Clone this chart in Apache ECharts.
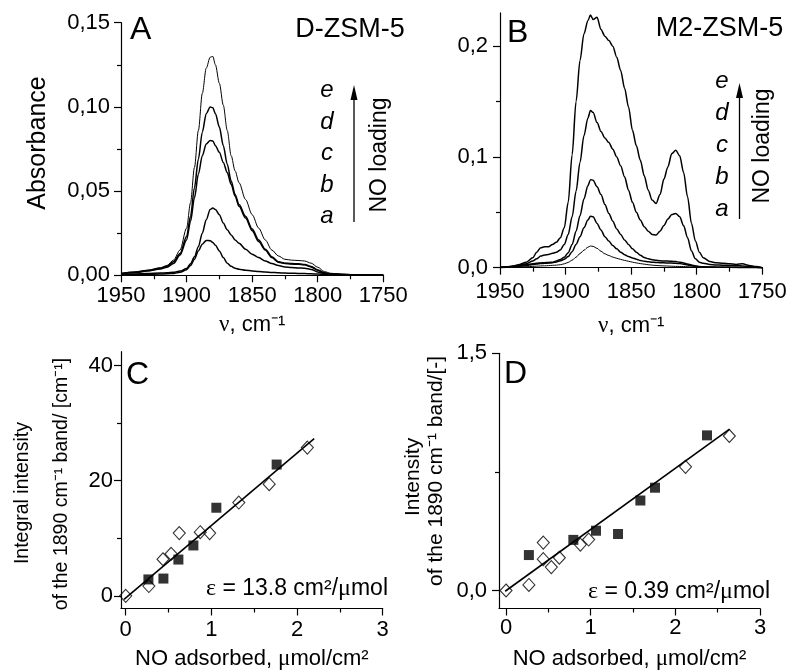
<!DOCTYPE html>
<html><head><meta charset="utf-8">
<script src="https://cdn.jsdelivr.net/npm/echarts@6/dist/echarts.min.js"></script>
<style>html,body{margin:0;padding:0;background:#fff}#c{width:790px;height:671px}</style>
</head><body><div id="c"></div>
<script>
// ---------- Panel A (D-ZSM-5) spectra ----------
const A_wn = [1950,1940,1930,1920,1915,1910,1905,1900,1897,1894,1891,1888,1885,1882,1880,1878,1875,1872,1869,1866,1863,1860,1855,1850,1845,1840,1835,1830,1825,1820,1815,1810,1805,1800,1795,1790,1780,1770,1760,1750];
const A_e = [0.0012,0.002,0.003,0.0045,0.0058,0.009,0.015,0.028,0.043,0.064,0.086,0.108,0.123,0.1295,0.130,0.125,0.114,0.101,0.086,0.071,0.062,0.055,0.045,0.036,0.028,0.021,0.015,0.0115,0.0095,0.009,0.0088,0.0085,0.0072,0.0048,0.0022,0.0012,0.0006,0.0004,0.0003,0.0002];
const A_d = [0.001,0.0018,0.0028,0.0042,0.0053,0.008,0.013,0.023,0.035,0.052,0.069,0.085,0.096,0.100,0.0995,0.096,0.088,0.077,0.066,0.056,0.048,0.042,0.035,0.0275,0.021,0.0155,0.011,0.008,0.0072,0.007,0.0068,0.0064,0.0052,0.0032,0.0015,0.0008,0.0005,0.0003,0.0002,0.0001];
const A_c = [0.0008,0.0015,0.0025,0.0038,0.0048,0.007,0.012,0.021,0.032,0.046,0.060,0.071,0.078,0.080,0.0798,0.077,0.073,0.067,0.061,0.054,0.047,0.041,0.034,0.0265,0.020,0.015,0.0105,0.0078,0.007,0.0067,0.0065,0.0062,0.005,0.003,0.0014,0.0008,0.0005,0.0003,0.0002,0.0001];
const A_b = [0.0005,0.0007,0.001,0.0013,0.0015,0.0018,0.0025,0.004,0.0068,0.011,0.017,0.025,0.033,0.039,0.040,0.039,0.036,0.031,0.027,0.024,0.021,0.019,0.0155,0.0125,0.0105,0.0085,0.007,0.0058,0.005,0.0046,0.0044,0.0042,0.0035,0.002,0.001,0.0006,0.0004,0.0003,0.0002,0.0001];
const A_a = [0.0003,0.0004,0.0005,0.0007,0.0009,0.0011,0.0018,0.0033,0.0058,0.0095,0.0145,0.0185,0.0207,0.0205,0.0195,0.0178,0.0145,0.0105,0.0072,0.0053,0.0042,0.0036,0.003,0.0026,0.0023,0.002,0.0017,0.0015,0.0013,0.0012,0.0011,0.001,0.0009,0.0007,0.0005,0.0004,0.0003,0.0002,0.0001,0.0001];

// ---------- Panel B (M2-ZSM-5) spectra ----------
const B_wn = [1950,1945,1940,1935,1930,1925,1922,1919,1916,1913,1910,1907,1904,1901,1898,1895,1892,1889,1886,1883,1881,1879,1876,1873,1870,1867,1864,1861,1858,1855,1852,1849,1846,1843,1840,1837,1834,1831,1828,1825,1822,1819,1816,1813,1810,1807,1804,1801,1798,1795,1790,1785,1780,1775,1770,1765,1760,1755,1750];
const B_e = [0.0003,0.0008,0.0015,0.003,0.005,0.009,0.014,0.018,0.019,0.019,0.021,0.023,0.027,0.036,0.059,0.102,0.150,0.187,0.211,0.223,0.228,0.224,0.226,0.215,0.209,0.205,0.200,0.190,0.178,0.162,0.145,0.124,0.110,0.097,0.083,0.070,0.061,0.058,0.066,0.080,0.091,0.103,0.106,0.101,0.086,0.064,0.040,0.024,0.014,0.009,0.0055,0.0045,0.004,0.0035,0.003,0.0035,0.002,0.001,0];
const B_d = [0.0003,0.0007,0.0012,0.0022,0.0035,0.006,0.008,0.0105,0.0115,0.012,0.013,0.014,0.016,0.021,0.030,0.046,0.069,0.095,0.119,0.135,0.142,0.140,0.131,0.123,0.117,0.113,0.107,0.100,0.092,0.082,0.070,0.059,0.050,0.043,0.037,0.033,0.030,0.0295,0.033,0.038,0.044,0.048,0.049,0.046,0.038,0.027,0.015,0.008,0.005,0.004,0.003,0.0025,0.0022,0.002,0.0018,0.0015,0.001,0.0005,0];
const B_c = [0.0002,0.0005,0.001,0.0017,0.0027,0.0035,0.004,0.0043,0.0045,0.0048,0.005,0.006,0.0075,0.0095,0.0135,0.021,0.033,0.047,0.062,0.074,0.0795,0.079,0.073,0.066,0.057,0.049,0.042,0.035,0.030,0.025,0.021,0.017,0.014,0.0112,0.0092,0.008,0.0072,0.0067,0.0063,0.006,0.006,0.0058,0.0055,0.005,0.0043,0.0033,0.0024,0.0016,0.001,0.0008,0.0006,0.0005,0.0004,0.0003,0.0003,0.0002,0.0001,0.0001,0];
const B_b = [0.0002,0.0004,0.0008,0.0013,0.002,0.0028,0.0033,0.0037,0.004,0.0042,0.0045,0.0052,0.0062,0.0077,0.010,0.0145,0.021,0.028,0.036,0.043,0.0465,0.046,0.040,0.034,0.028,0.024,0.020,0.017,0.014,0.0118,0.010,0.0088,0.0077,0.0065,0.0058,0.0053,0.005,0.0047,0.0045,0.0044,0.0043,0.0042,0.004,0.0037,0.0032,0.0025,0.0018,0.0012,0.0008,0.0006,0.0005,0.0004,0.0003,0.0003,0.0002,0.0002,0.0001,0.0001,0];
const B_a = [0.0001,0.0002,0.0004,0.0006,0.0009,0.0012,0.0014,0.0016,0.0017,0.0019,0.0021,0.0023,0.0027,0.0035,0.0048,0.0068,0.0095,0.0128,0.0158,0.0185,0.0196,0.0192,0.0175,0.0148,0.0125,0.011,0.0096,0.0085,0.0075,0.0066,0.0058,0.005,0.0043,0.0037,0.0032,0.0027,0.0023,0.002,0.0018,0.0016,0.0015,0.0013,0.0012,0.0011,0.001,0.0009,0.0007,0.0006,0.0005,0.0004,0.0003,0.0003,0.0002,0.0002,0.0001,0.0001,0.0001,0,0];

// ---------- Panel C (D-ZSM-5 integral intensity) ----------
const C_openX = [0, 0.27, 0.435, 0.53, 0.625, 0.87, 0.98, 1.32, 1.675, 2.12];
const C_openY = [0, 1.7, 6.35, 7.3, 10.9, 11.05, 10.9, 16.2, 19.4, 25.75];
const C_fillX = [0.265, 0.44, 0.615, 0.79, 1.058, 1.762];
const C_fillY = [2.85, 3.0, 6.3, 8.75, 15.3, 22.8];
const C_fitX = [-0.02, 2.2];
const C_fitY = [-0.6, 27.3];

// ---------- Panel D (M2-ZSM-5 intensity) ----------
const D_openX = [0, 0.27, 0.44, 0.44, 0.535, 0.63, 0.878, 0.976, 2.12, 2.638];
const D_openY = [0, 0.035, 0.303, 0.198, 0.148, 0.207, 0.29, 0.322, 0.782, 0.977];
const D_fillX = [0.27, 0.795, 1.063, 1.323, 1.587, 1.76, 2.374];
const D_fillY = [0.224, 0.32, 0.378, 0.357, 0.569, 0.65, 0.981];
const D_fitX = [-0.01, 2.64];
const D_fitY = [-0.005, 1.02];

// ---------- Tick values ----------
const A_xTicks = [1950, 1900, 1850, 1800, 1750];
const A_xMinor = [1925, 1875, 1825, 1775];
const A_yTicks = [0, 0.05, 0.10, 0.15];
const A_yMinor = [0.025, 0.075, 0.125];
const B_xTicks = [1950, 1900, 1850, 1800, 1750];
const B_xMinor = [1925, 1875, 1825, 1775];
const B_yTicks = [0, 0.1, 0.2];
const B_yMinor = [0.05, 0.15];
const C_xTicks = [0, 1, 2, 3];
const C_xMinor = [0.5, 1.5, 2.5];
const C_yTicks = [0, 20, 40];
const C_yMinor = [10, 30];
const D_xTicks = [0, 1, 2, 3];
const D_xMinor = [0.5, 1.5, 2.5];
const D_yTicks = [0, 1.5];
const D_yMinor = [0.75];

// ---------- build ----------
const FONT = 'Liberation Sans';
const SERIF = 'Liberation Serif';
const K = '#000';
const pairs = (xs, ys) => xs.map((x, i) => [x, ys[i]]);
const comma = d => v => v.toFixed(d).replace('.', ',');

function nameRich(fs, lh) {
  return {
    n: {fontFamily: FONT, fontSize: fs, lineHeight: lh, color: K},
    g: {fontFamily: SERIF, fontSize: fs + 1, lineHeight: lh, color: K}
  };
}

function majorAxis(g, min, max, ticks, fmt, margin, pos, extra) {
  return Object.assign({
    type: 'value', gridIndex: g, min: min, max: max, position: pos,
    splitLine: {show: false},
    axisLine: {show: true, onZero: false, lineStyle: {color: K, width: 1.2}},
    axisTick: {show: true, inside: false, length: 7, customValues: ticks, lineStyle: {color: K, width: 1.2}},
    axisLabel: {show: true, customValues: ticks, formatter: fmt, color: K, fontSize: 22, fontFamily: FONT, margin: margin},
    nameLocation: 'middle'
  }, extra || {});
}
function minorAxis(g, min, max, ticks, pos, extra) {
  return Object.assign({
    type: 'value', gridIndex: g, min: min, max: max, position: pos,
    splitLine: {show: false},
    axisLine: {show: false, onZero: false},
    axisTick: {show: true, inside: false, length: 4, customValues: ticks, lineStyle: {color: K, width: 1.2}},
    axisLabel: {show: false},
    nameLocation: 'middle'
  }, extra || {});
}

const nuName = '{g|ν}{n|, cm⁻¹}';
const noName = '{n|NO adsorbed, }{g|μ}{n|mol/cm²}';
const xNameRich = nameRich(22, 26);

const xAxes = [
  majorAxis(0, 1750, 1950, A_xTicks, v => String(v), 10, 'bottom', {inverse: true, name: nuName, nameGap: 37, nameTextStyle: {rich: xNameRich}}),
  minorAxis(0, 1750, 1950, A_xMinor, 'bottom', {inverse: true}),
  majorAxis(1, 1750, 1950, B_xTicks, v => String(v), 13, 'bottom', {inverse: true, name: nuName, nameGap: 45, nameTextStyle: {rich: xNameRich}}),
  minorAxis(1, 1750, 1950, B_xMinor, 'bottom', {inverse: true}),
  majorAxis(2, -0.055, 3, C_xTicks, v => String(v), 10, 'bottom', {name: noName, nameGap: 37, nameTextStyle: {rich: xNameRich}}),
  minorAxis(2, -0.055, 3, C_xMinor, 'bottom'),
  majorAxis(3, -0.083, 3, D_xTicks, v => String(v), 8, 'bottom', {name: noName, nameGap: 37, nameTextStyle: {rich: xNameRich}}),
  minorAxis(3, -0.083, 3, D_xMinor, 'bottom')
];

const yAxes = [
  majorAxis(0, 0, 0.15, A_yTicks, comma(2), 11, 'left', {name: 'Absorbance', nameGap: 70,
    nameTextStyle: {fontSize: 25, fontFamily: FONT, color: K, padding: [0, 0, 0, 12]}}),
  minorAxis(0, 0, 0.15, A_yMinor, 'left'),
  majorAxis(1, 0, 0.23, B_yTicks, comma(1), 12, 'left'),
  minorAxis(1, 0, 0.23, B_yMinor, 'left'),
  majorAxis(2, -2.2, 42.4, C_yTicks, v => String(v), 8, 'left', {
    name: 'Integral intensity', nameGap: 88,
    nameTextStyle: {fontSize: 19.5, lineHeight: 20, fontFamily: FONT, color: K, padding: [0, 26, 0, 0]}}),
  minorAxis(2, -2.2, 42.4, C_yMinor, 'left', {
    name: 'of the 1890 cm⁻¹ band/ [cm⁻¹]', nameGap: 49,
    nameTextStyle: {fontSize: 19.5, lineHeight: 20, fontFamily: FONT, color: K, padding: [0, 8, 0, 0]}}),
  majorAxis(3, -0.114, 1.5, D_yTicks, comma(1), 12, 'left', {
    name: 'Intensity', nameGap: 75,
    nameTextStyle: {fontSize: 21, lineHeight: 22, fontFamily: FONT, color: K, padding: [0, 0, 0, 8]}}),
  minorAxis(3, -0.114, 1.5, D_yMinor, 'left', {
    name: 'of the 1890 cm⁻¹ band/[-]', nameGap: 52,
    nameTextStyle: {fontSize: 21, lineHeight: 22, fontFamily: FONT, color: K, padding: [0, 0, 0, 20]}})
];

function spec(xi, wn, ys, w) {
  return {type: 'line', xAxisIndex: xi, yAxisIndex: xi, data: pairs(wn, ys), symbol: 'none', showSymbol: false,
    smooth: 0.3, smoothMonotone: 'x', lineStyle: {color: K, width: w}, silent: true};
}
function pts(xi, xs, ys, open) {
  return {type: 'scatter', xAxisIndex: xi, yAxisIndex: xi, data: pairs(xs, ys),
    symbol: open ? 'diamond' : 'rect', symbolSize: open ? [12, 13] : [10, 10],
    itemStyle: open ? {color: 'rgba(255,255,255,0)', borderColor: K, borderWidth: 1.1} : {color: K},
    silent: true, z: 2};
}
function fit(xi, xs, ys) {
  return {type: 'line', xAxisIndex: xi, yAxisIndex: xi, data: pairs(xs, ys), symbol: 'none', showSymbol: false,
    lineStyle: {color: K, width: 1.6}, silent: true, z: 3};
}

const series = [
  spec(0, A_wn, A_a, 1.5), spec(0, A_wn, A_b, 1.5), spec(0, A_wn, A_c, 1.5), spec(0, A_wn, A_d, 1.5), spec(0, A_wn, A_e, 1),
  spec(2, B_wn, B_a, 1), spec(2, B_wn, B_b, 1.5), spec(2, B_wn, B_c, 1.5), spec(2, B_wn, B_d, 1.5), spec(2, B_wn, B_e, 1.5),
  pts(4, C_openX, C_openY, true), pts(4, C_fillX, C_fillY, false), fit(4, C_fitX, C_fitY),
  pts(6, D_openX, D_openY, true), pts(6, D_fillX, D_fillY, false), fit(6, D_fitX, D_fitY)
];

function txt(x, y, text, fs, opt) {
  return Object.assign({type: 'text', x: x, y: y, silent: true,
    style: Object.assign({text: text, fontSize: fs, fontFamily: FONT, fill: K, align: 'left', verticalAlign: 'middle'}, (opt && opt.style) || {})},
    (opt && opt.el) || {});
}
function letters(x, ys) {
  const L = ['e', 'd', 'c', 'b', 'a'];
  return L.map((l, i) => txt(x, ys[i], l, 24, {style: {align: 'center', fontStyle: 'italic'}}));
}
function arrow(x, yb, yt) {
  return [
    {type: 'line', silent: true, shape: {x1: x, y1: yb, x2: x, y2: yt + 12}, style: {stroke: K, lineWidth: 1.3}},
    {type: 'polygon', silent: true, shape: {points: [[x - 3.5, yt + 15], [x + 3.5, yt + 15], [x, yt]]}, style: {fill: K}}
  ];
}
const epsRich = {
  n: {fontFamily: FONT, fontSize: 23, lineHeight: 26, fill: K},
  g: {fontFamily: SERIF, fontSize: 24, lineHeight: 26, fill: K}
};

const graphic = [
  txt(130, 30, 'A', 32), txt(350, 30, 'D-ZSM-5', 27, {style: {align: 'center'}}),
  txt(507, 33, 'B', 32), txt(719.5, 28.5, 'M2-ZSM-5', 27, {style: {align: 'center'}}),
  txt(126, 375, 'C', 32), txt(504, 374.5, 'D', 32),
  ...letters(327, [90.6, 122.1, 153.6, 185.1, 216.6]),
  ...letters(722, [81.6, 113.6, 145.6, 177.6, 209.6]),
  ...arrow(354, 222, 85), ...arrow(739.5, 219, 83),
  txt(379.5, 155, 'NO loading', 23, {style: {align: 'center'}, el: {rotation: Math.PI / 2}}),
  txt(762.5, 146, 'NO loading', 23, {style: {align: 'center'}, el: {rotation: Math.PI / 2}}),
  {type: 'text', x: 388, y: 589, silent: true, style: {text: '{g|ε}{n| = 13.8 cm²/}{g|μ}{n|mol}', rich: epsRich, align: 'right', verticalAlign: 'middle'}},
  {type: 'text', x: 770, y: 591.7, silent: true, style: {text: '{g|ε}{n| = 0.39 cm²/}{g|μ}{n|mol}', rich: epsRich, align: 'right', verticalAlign: 'middle'}}
];

const chart = echarts.init(document.getElementById('c'), null, {renderer: 'canvas'});
chart.setOption({
  animation: false,
  backgroundColor: '#fff',
  textStyle: {fontFamily: FONT, color: K},
  grid: [
    {left: 121, top: 22.7, width: 262.3, height: 252.6},
    {left: 500, top: 12.9, width: 262.3, height: 254.8},
    {left: 121, top: 351.7, width: 261.7, height: 258.3},
    {left: 499, top: 353.3, width: 261, height: 259}
  ],
  xAxis: xAxes,
  yAxis: yAxes,
  series: series,
  graphic: graphic
});
</script></body></html>
